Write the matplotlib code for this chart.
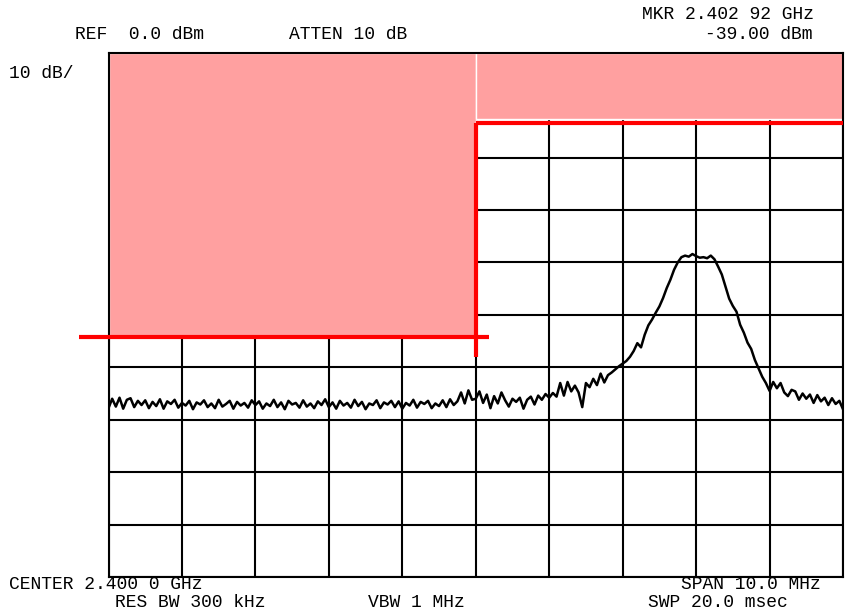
import numpy as np
import matplotlib
matplotlib.use("Agg")
import matplotlib.pyplot as plt
from matplotlib.patches import Rectangle

plt.rcParams['font.family'] = ['Liberation Mono', 'DejaVu Sans Mono']

# analyzer setup
center_mhz = 2400.0
span_mhz = 10.0
ref_dbm = 0.0
db_per_div = 10
n_points = 201

# measured trace (dBm), one value per sweep point
trace_dbm = [
    -67.8, -66.0, -67.5, -65.8, -67.9, -66.2, -65.9, -67.6, -66.4, -67.2,
    -66.3, -67.8, -66.6, -67.4, -66.1, -67.9, -66.5, -67.0, -66.2, -67.7,
    -66.8, -67.3, -66.4, -68.0, -66.7, -67.1, -66.3, -67.6, -66.9, -67.8,
    -66.2, -67.5, -67.0, -66.4, -67.9, -66.6, -67.3, -66.8, -67.7, -66.3,
    -67.2, -66.5, -67.9, -66.9, -67.4, -66.2, -67.6, -66.7, -68.0, -66.4,
    -67.1, -66.8, -67.7, -66.3, -67.5, -66.9, -67.8, -66.5, -67.2, -66.1,
    -67.6, -66.7, -67.9, -66.4, -67.3, -66.8, -67.7, -66.2, -67.4, -66.6,
    -68.0, -66.9, -67.2, -66.3, -67.8, -66.7, -67.1, -66.4, -67.6, -66.5,
    -67.9, -66.8, -67.3, -66.2, -67.7, -66.6, -67.0, -66.4, -67.8, -66.9,
    -67.4, -66.3, -67.6, -66.1, -67.2, -66.5, -64.8, -66.9, -64.4, -66.2,
    -66.0, -64.6, -66.8, -65.2, -67.8, -65.5, -66.9, -64.8, -66.3, -67.5,
    -66.0, -66.6, -65.8, -67.9, -66.2, -65.6, -67.1, -65.4, -66.2, -65.1,
    -65.8, -64.9, -65.6, -63.0, -65.4, -62.8, -64.6, -63.5, -64.8, -67.6,
    -63.0, -63.8, -62.2, -63.4, -61.2, -62.9, -61.5, -61.0, -60.4, -59.8,
    -59.3, -58.8, -58.0, -56.9, -55.4, -56.2, -53.8, -52.0, -50.9, -49.6,
    -48.4, -46.8, -44.9, -43.3, -41.4, -40.0, -39.0, -38.7, -38.9, -38.4,
    -38.8, -39.1, -39.0, -39.2, -38.7, -39.4, -40.8, -42.3, -44.6, -46.9,
    -48.3, -49.4, -51.9, -53.4, -55.3, -56.5, -58.6, -60.2, -61.8, -63.0,
    -64.5, -62.8, -64.0, -63.0, -64.8, -65.5, -64.3, -64.6, -66.2, -65.0,
    -66.0, -65.2, -66.8, -65.3, -66.5, -65.8, -67.2, -65.9, -67.0, -66.4,
    -68.0,
]

# limit mask: (start MHz, stop MHz, level dBm)
mask_low = (2394.6, 2400.18, -54.2)
mask_high = (2400.0, 2405.0, -13.5)
mask_step_bottom = -58.1

start = center_mhz - span_mhz / 2
stop = center_mhz + span_mhz / 2
freq = np.linspace(start, stop, n_points)
bottom = ref_dbm - 10 * db_per_div

fig = plt.figure(figsize=(8.46, 6.16), dpi=100)
ax = fig.add_axes([108.5 / 846, 1 - 577 / 616, 734.5 / 846, (577 - 52.7) / 616])
ax.set_xlim(start, stop)
ax.set_ylim(bottom, ref_dbm)
ax.set_xticks(np.linspace(start, stop, 11))
ax.set_yticks(np.linspace(bottom, ref_dbm, 11))
ax.tick_params(length=0, labelbottom=False, labelleft=False)
ax.grid(True, color='black', linewidth=1.5)
ax.set_axisbelow(True)
for s in ax.spines.values():
    s.set_linewidth(1.5)
    s.set_zorder(4)

pink = '#ffa0a0'
ax.add_patch(Rectangle((start, mask_low[2]), center_mhz - start, ref_dbm - mask_low[2],
                       facecolor=pink, edgecolor='white', linewidth=1.0, zorder=1))
ax.add_patch(Rectangle((center_mhz, mask_high[2] + 0.9), stop - center_mhz,
                       ref_dbm - mask_high[2] - 0.9,
                       facecolor=pink, edgecolor='white', linewidth=1.0, zorder=1))

ax.plot(freq, trace_dbm, color='black', linewidth=1.8, zorder=2)

red = '#ff0000'
ax.plot([mask_low[0], mask_low[1]], [mask_low[2], mask_low[2]], color=red,
        linewidth=3, clip_on=False, zorder=5, solid_capstyle='butt')
ax.plot([center_mhz, center_mhz], [mask_step_bottom, mask_high[2]], color=red,
        linewidth=3, clip_on=False, zorder=5, solid_capstyle='butt')
ax.plot([mask_high[0], mask_high[1]], [mask_high[2], mask_high[2]], color=red,
        linewidth=3, clip_on=False, zorder=5, solid_capstyle='butt')


def label(x, y, s, ha='left'):
    fig.text(x / 846, 1 - y / 616, s, ha=ha, va='baseline', fontsize=13)


label(814, 19, 'MKR 2.402 92 GHz', ha='right')
label(75, 39, 'REF  0.0 dBm')
label(289, 39, 'ATTEN 10 dB')
label(812, 39, '-39.00 dBm', ha='right')
label(9, 78, '10 dB/')
label(9, 589, 'CENTER 2.400 0 GHz')
label(821, 589, 'SPAN 10.0 MHz', ha='right')
label(115, 607, 'RES BW 300 kHz')
label(368, 607, 'VBW 1 MHz')
label(648, 607, 'SWP 20.0 msec')

fig.savefig('out.png', dpi=100)
